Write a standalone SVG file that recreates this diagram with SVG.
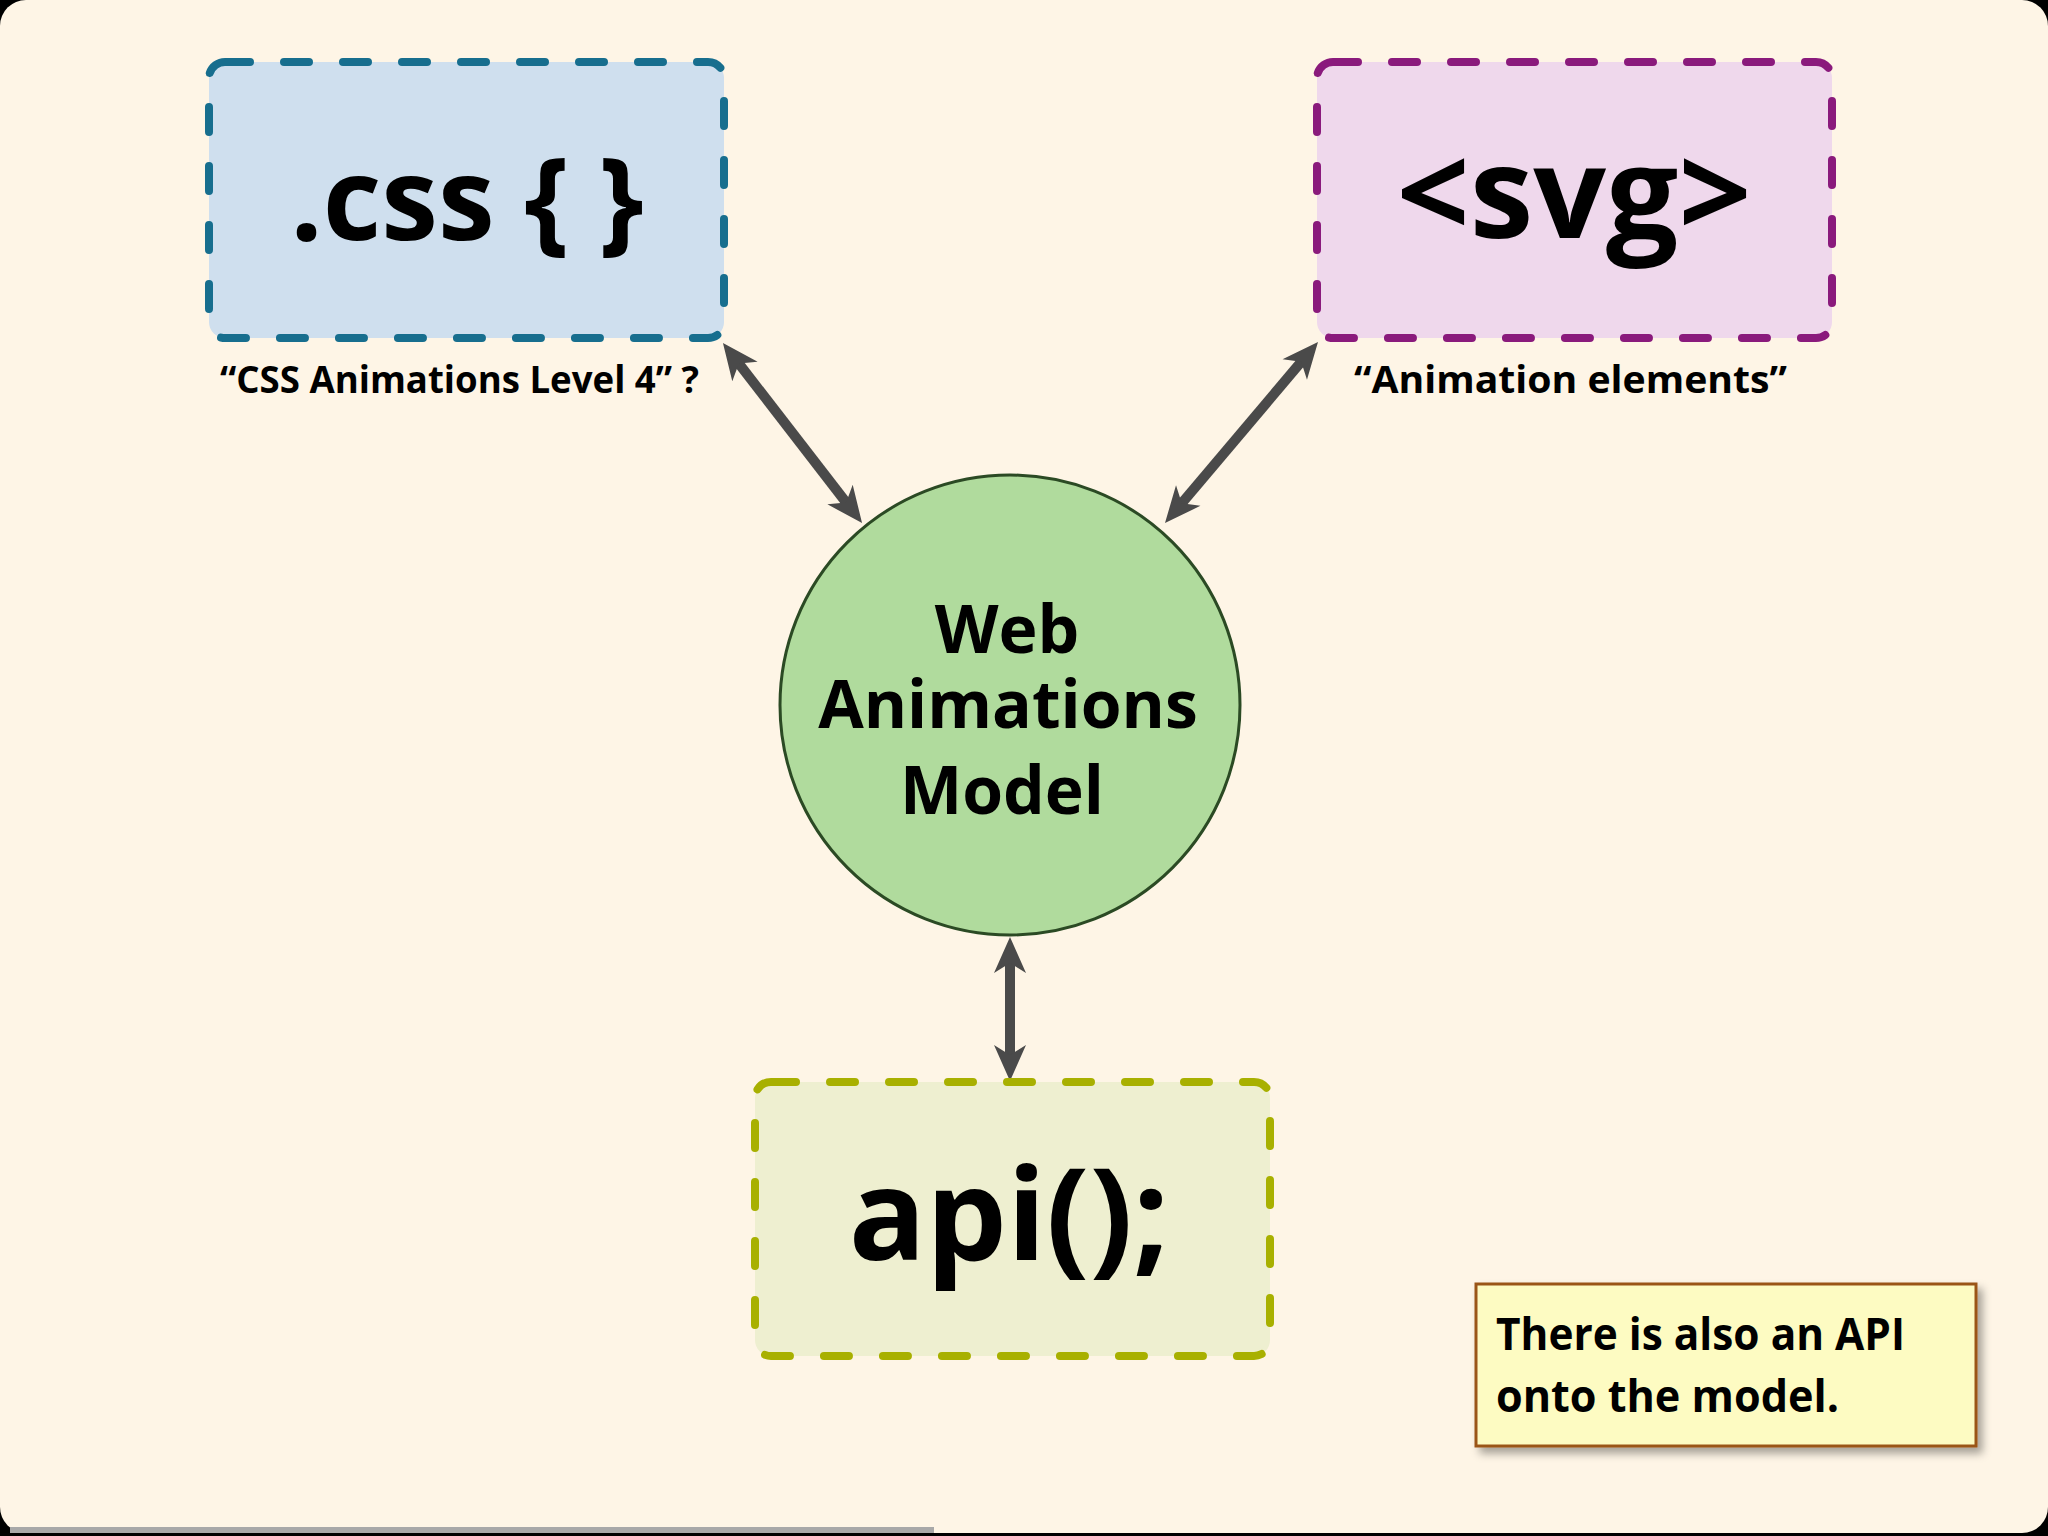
<svg xmlns="http://www.w3.org/2000/svg" width="2048" height="1536" viewBox="0 0 2048 1536">
  <style>
    .big { font-family: "Open Sans", "Noto Sans", sans-serif; font-weight: 700; fill: #000; text-anchor: middle; }
    .cap { font-family: "Open Sans", "Noto Sans", sans-serif; font-weight: 700; font-size: 37px; fill: #000; }
    .mdl { font-family: "Open Sans", "Noto Sans", sans-serif; font-weight: 700; font-size: 66px; fill: #000; text-anchor: middle; }
    .note { font-family: "Open Sans", "Noto Sans", sans-serif; font-weight: 700; font-size: 44px; fill: #000; }
    .dbox { stroke-width: 8; stroke-dasharray: 25 34; stroke-linecap: round; }
    .conn { stroke: #4A4A4A; stroke-width: 10; fill: none; marker-start: url(#ah); marker-end: url(#ah); }
  </style>
  <defs>
    <marker id="ah" markerUnits="userSpaceOnUse" viewBox="-20 -20 46 40" markerWidth="46" markerHeight="40" refX="0" refY="0" orient="auto-start-reverse" overflow="visible">
      <path d="M22,0 L-14,-16 L-4,0 L-14,16 Z" fill="#4A4A4A"/>
    </marker>
    <filter id="shadow" x="-10%" y="-20%" width="130%" height="150%">
      <feDropShadow dx="5" dy="6" stdDeviation="4" flood-color="#000" flood-opacity="0.35"/>
    </filter>
  </defs>

  <g id="background">
    <rect x="0" y="0" width="2048" height="1536" fill="#000"/>
    <rect x="0" y="0" width="2048" height="1533" rx="26" ry="26" fill="#FEF5E6"/>
    <rect x="10" y="1527" width="924" height="6" fill="#A8A8A8"/>
  </g>

  <g id="connectors">
    <line class="conn" x1="736.4" y1="360.4" x2="848.6" y2="505.6"/>
    <line class="conn" x1="1303.8" y1="358.8" x2="1179.2" y2="506.2"/>
    <line class="conn" x1="1010" y1="959" x2="1010" y2="1059"/>
  </g>

  <g id="node-css">
    <rect class="dbox" x="209" y="62" width="515" height="276" rx="16" fill="#CFDFEE" stroke="#176E8E"/>
    <text class="big" x="467" y="240" font-size="114">.css { }</text>
    <text class="cap" x="220" y="393" textLength="479" lengthAdjust="spacingAndGlyphs">“CSS Animations Level 4” ?</text>
  </g>

  <g id="node-svg">
    <rect class="dbox" x="1317" y="62" width="515" height="276" rx="16" fill="#EFD8EC" stroke="#8A1A7C"/>
    <text class="big" x="1574" y="238" font-size="128">&lt;svg&gt;</text>
    <text class="cap" x="1354" y="393" textLength="433" lengthAdjust="spacingAndGlyphs">“Animation elements”</text>
  </g>

  <g id="node-model">
    <circle cx="1010" cy="705" r="230" fill="#B0DB9D" stroke="#2B4A24" stroke-width="3"/>
    <text class="mdl"><tspan x="1007" y="653">Web</tspan><tspan x="1008" y="728">Animations</tspan><tspan x="1002" y="814">Model</tspan></text>
  </g>

  <g id="node-api">
    <rect class="dbox" x="755" y="1082" width="515" height="274" rx="16" fill="#EEEFD0" stroke="#A8B000"/>
    <text class="big" x="1009" y="1260" font-size="128">api();</text>
  </g>

  <g id="note">
    <rect x="1476" y="1284" width="500" height="162" fill="#FDFBC2" stroke="#9A5518" stroke-width="3" filter="url(#shadow)"/>
    <text class="note" x="1496" y="1350" textLength="409" lengthAdjust="spacingAndGlyphs">There is also an API</text>
    <text class="note" x="1496" y="1412" textLength="343" lengthAdjust="spacingAndGlyphs">onto the model.</text>
  </g>
</svg>
